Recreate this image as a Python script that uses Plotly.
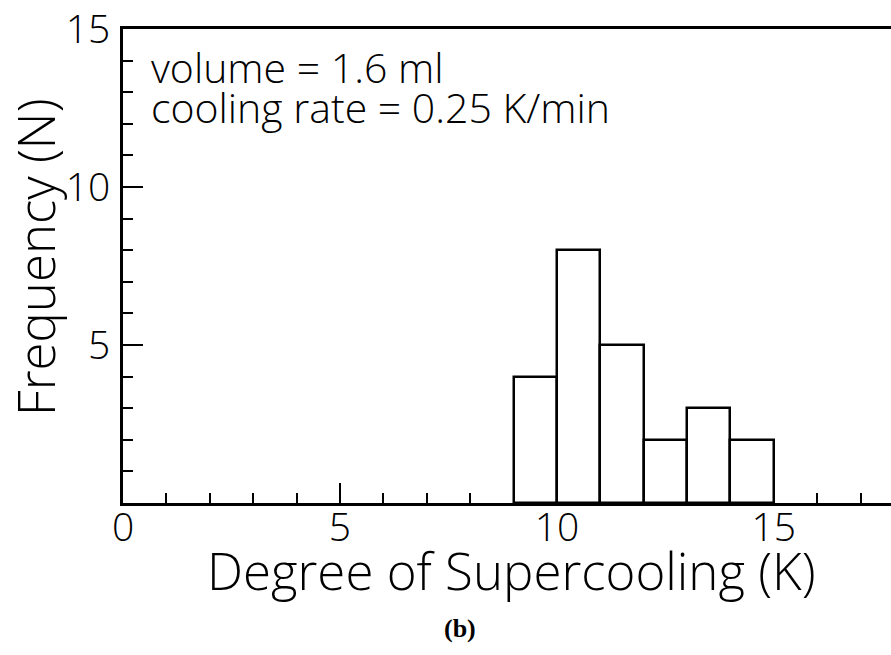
import plotly.graph_objects as go

# Data
bin_left = [9, 10, 11, 12, 13, 14]
counts = [4, 8, 5, 2, 3, 2]
bin_width = 1
x_ticks = [0, 5, 10, 15]
y_ticks = [5, 10, 15]
note_lines = ["volume = 1.6 ml", "cooling rate = 0.25 K/min"]
x_title = "Degree of Supercooling (K)"
y_title = "Frequency (N)"
panel_label = "(b)"

FONT = "Open Sans, Roboto, DejaVu Sans, sans-serif"
W = 300

centers = [b + bin_width / 2 for b in bin_left]

fig = go.Figure()
fig.add_trace(go.Bar(
    x=centers, y=counts, width=[bin_width] * len(counts),
    marker=dict(color="white", line=dict(color="black", width=2.5)),
    showlegend=False,
))

fig.update_layout(
    width=891, height=655,
    margin=dict(l=123, r=0, t=29, b=152, autoexpand=False),
    paper_bgcolor="white", plot_bgcolor="white",
    font=dict(family=FONT, color="black", weight=W),
    bargap=0,
)

fig.update_xaxes(
    range=[0, 17.7], tickvals=x_ticks, ticktext=[str(v) for v in x_ticks],
    showgrid=False, zeroline=False, automargin=False,
    showline=True, linecolor="black", linewidth=3, mirror=True,
    ticks="inside", ticklen=20, tickwidth=2, tickcolor="black",
    minor=dict(dtick=1, ticks="inside", ticklen=10, tickwidth=2, tickcolor="black"),
    tickfont=dict(size=39, family=FONT, weight=W),
    ticklabelstandoff=-12,
)
fig.update_yaxes(
    range=[0, 15], tickvals=y_ticks, ticktext=[str(v) for v in y_ticks],
    showgrid=False, zeroline=False, automargin=False,
    showline=True, linecolor="black", linewidth=3, mirror=False,
    ticks="inside", ticklen=20, tickwidth=2, tickcolor="black",
    minor=dict(dtick=1, ticks="inside", ticklen=10, tickwidth=2, tickcolor="black"),
    tickfont=dict(size=39, family=FONT, weight=W),
    ticklabelstandoff=2,
)

# axis titles
fig.add_annotation(
    text=x_title, xref="paper", yref="paper", x=0.5065, y=-0.1414,
    xanchor="center", yanchor="middle", showarrow=False,
    font=dict(size=51, family=FONT, weight=W),
)
fig.add_annotation(
    text=y_title, xref="paper", yref="paper", x=-0.1146, y=0.519,
    xanchor="center", yanchor="middle", showarrow=False, textangle=-90,
    font=dict(size=51, family=FONT, weight=W),
)

note_y = [0.9188, 0.8344]
for line, yy in zip(note_lines, note_y):
    fig.add_annotation(
        text=line, xref="paper", yref="paper",
        x=0.034, y=yy, xanchor="left", yanchor="middle",
        showarrow=False, font=dict(size=41, family=FONT, weight=W),
    )

fig.add_annotation(
    text="<b>" + panel_label + "</b>", xref="paper", yref="paper", x=0.439, y=(503 - 628) / 474,
    xanchor="center", yanchor="middle", showarrow=False,
    font=dict(size=26, family="Liberation Serif, Times New Roman, serif"),
)

fig.write_html(
    "out.html",
    config={"displayModeBar": False},
    post_script="document.body.style.margin='0';document.body.style.overflow='hidden';",
)
